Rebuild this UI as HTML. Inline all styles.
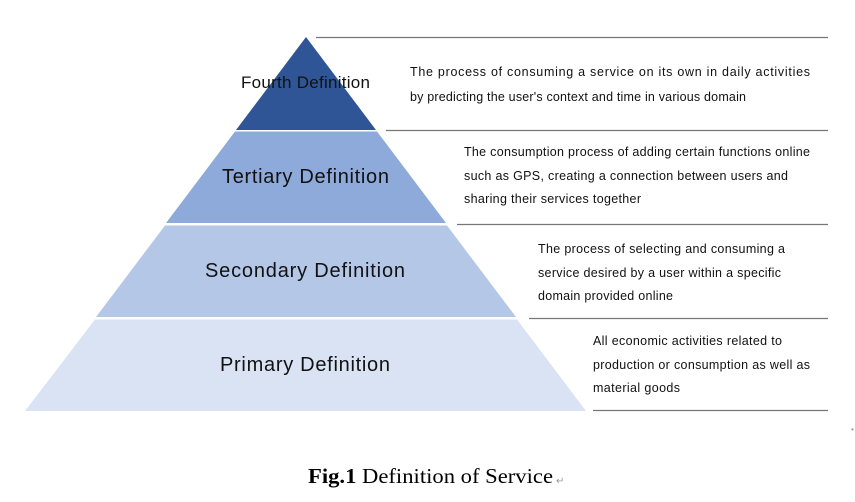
<!DOCTYPE html>
<html><head><meta charset="utf-8"><style>
body{margin:0;background:#fff;}
svg{display:block;font-family:"Liberation Sans",Arial,sans-serif;}
</style></head><body>
<svg width="855" height="502" viewBox="0 0 855 502" xmlns="http://www.w3.org/2000/svg">
<polygon points="306,37 376,130 236,130" fill="#2f5597"/>
<polygon points="235,131.5 377,131.5 446,223 166,223" fill="#8eaadb"/>
<polygon points="165,225.5 447,225.5 516,317 96,317" fill="#b4c7e7"/>
<polygon points="95,319.5 517,319.5 586,411 25,411" fill="#dae3f3"/>
<g stroke="#777" stroke-width="1.2">
<line x1="316" y1="37.5" x2="828" y2="37.5"/>
<line x1="386" y1="130.5" x2="828" y2="130.5"/>
<line x1="457" y1="224.5" x2="828" y2="224.5"/>
<line x1="529" y1="318.5" x2="828" y2="318.5"/>
<line x1="593" y1="410.5" x2="828" y2="410.5"/>
</g>
<g fill="#111" lengthAdjust="spacing">
<text x="241" y="88" font-size="17" textLength="129" lengthAdjust="spacing">Fourth Definition</text>
<text x="222" y="183" font-size="20" textLength="167" lengthAdjust="spacing">Tertiary Definition</text>
<text x="205" y="277" font-size="20" textLength="200" lengthAdjust="spacing">Secondary Definition</text>
<text x="220" y="371" font-size="20" textLength="170" lengthAdjust="spacing">Primary Definition</text>
</g>
<g fill="#111" font-size="12.5">
<text x="410" y="76" textLength="400" lengthAdjust="spacing">The process of consuming a service on its own in daily activities</text>
<text x="410" y="101" textLength="336" lengthAdjust="spacing">by predicting the user's context and time in various domain</text>
<text x="464" y="156" textLength="346" lengthAdjust="spacing">The consumption process of adding certain functions online</text>
<text x="464" y="180" textLength="324" lengthAdjust="spacing">such as GPS, creating a connection between users and</text>
<text x="464" y="203" textLength="177" lengthAdjust="spacing">sharing their services together</text>
<text x="538" y="253" textLength="247" lengthAdjust="spacing">The process of selecting and consuming a</text>
<text x="538" y="277" textLength="243" lengthAdjust="spacing">service desired by a user within a specific</text>
<text x="538" y="300" textLength="135" lengthAdjust="spacing">domain provided online</text>
<text x="593" y="345" textLength="189" lengthAdjust="spacing">All economic activities related to</text>
<text x="593" y="369" textLength="217" lengthAdjust="spacing">production or consumption as well as</text>
<text x="593" y="392" textLength="87" lengthAdjust="spacing">material goods</text>
</g>
<text x="851" y="432" font-size="8" fill="#999">•</text>
<text x="308" y="483" font-size="21" font-family="Liberation Serif,serif" fill="#000" textLength="245" lengthAdjust="spacingAndGlyphs"><tspan font-weight="bold">Fig.1</tspan> Definition of Service</text>
<text x="556" y="484" font-size="10" fill="#999">↵</text>
</svg>
</body></html>
